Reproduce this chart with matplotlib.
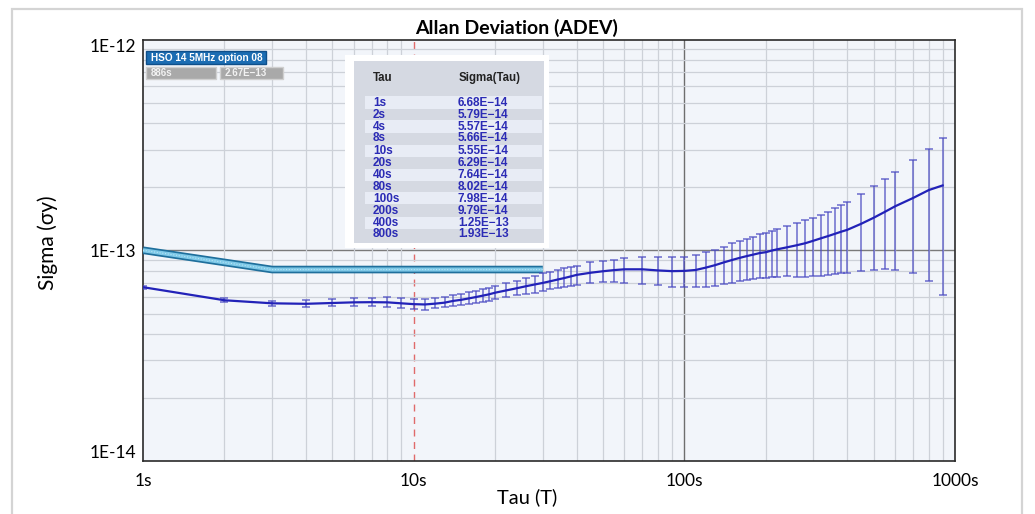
import matplotlib
matplotlib.use('Agg')
import matplotlib.pyplot as plt
from matplotlib.patches import Rectangle
import numpy as np

# ---------------- data ----------------
tau = [1, 2, 3, 4, 5, 6, 7, 8, 9, 10, 11, 12, 13, 14, 15, 16, 17, 18, 19, 20,
       22, 24, 26, 28, 30, 32, 34, 36, 38, 40, 45, 50, 55, 60, 70, 80, 90,
       100, 110, 120, 130, 140, 150, 160, 170, 180, 190, 200, 210, 220,
       240, 260, 280, 300, 320, 340, 360, 380, 400, 450, 500, 550, 600,
       700, 800, 900]
sigma_e14 = [6.68, 5.79, 5.60, 5.57, 5.62, 5.66, 5.67, 5.66, 5.60, 5.55, 5.53, 5.58, 5.64, 5.75,
             5.82, 5.91, 6.00, 6.09, 6.18, 6.29,
             6.45, 6.60, 6.75, 6.88, 7.00, 7.13, 7.26, 7.38, 7.51, 7.64, 7.82, 7.95, 8.05, 8.12,
             8.12, 8.02, 7.96,
             7.98, 8.06, 8.27, 8.50, 8.76, 8.99, 9.20, 9.38, 9.54, 9.70, 9.79, 9.96, 10.10,
             10.33, 10.56, 10.80, 11.10, 11.40, 11.68, 11.97, 12.25, 12.50, 13.35, 14.25, 15.20, 16.15,
             17.70, 19.30, 20.30]
lower_e14 = [6.58, 5.68, 5.44, 5.40, 5.43, 5.46, 5.45, 5.40, 5.32, 5.25, 5.22, 5.30, 5.36, 5.45,
             5.51, 5.57, 5.65, 5.71, 5.76, 5.85,
             5.98, 6.10, 6.22, 6.30, 6.42, 6.53, 6.65, 6.70, 6.78, 6.86, 6.98, 7.04, 7.04, 7.00,
             6.92, 6.84, 6.72,
             6.66, 6.66, 6.72, 6.80, 6.90, 7.02, 7.15, 7.23, 7.30, 7.37, 7.39, 7.45, 7.48,
             7.53, 7.50, 7.50, 7.53, 7.58, 7.62, 7.75, 7.81, 7.83, 7.98, 8.10, 8.13, 8.10,
             7.81, 7.13, 6.12]
upper_e14 = [6.78, 5.92, 5.77, 5.78, 5.85, 5.92, 5.95, 5.97, 5.93, 5.86, 5.88, 5.93, 5.98, 6.10,
             6.20, 6.31, 6.40, 6.52, 6.62, 6.75,
             6.96, 7.14, 7.35, 7.55, 7.78, 7.90, 8.05, 8.20, 8.35, 8.45, 8.78, 8.94, 9.03, 9.20,
             9.27, 9.27, 9.27,
             9.33, 9.50, 9.80, 10.05, 10.40, 10.80, 11.05, 11.33, 11.62, 11.88, 12.10, 12.33, 12.65,
             13.03, 13.47, 13.86, 14.27, 14.64, 15.20, 15.86, 16.40, 17.00, 18.56, 20.27, 21.88, 23.63,
             26.95, 30.32, 33.93]

spec_tau = [1, 3, 30]
spec_sigma = [1.00e-13, 8.1e-14, 8.1e-14]

table_tau = ['1s', '2s', '4s', '8s', '10s', '20s', '40s', '80s', '100s', '200s', '400s', '800s']
table_sigma = ['6.68E\u221214', '5.79E\u221214', '5.57E\u221214', '5.66E\u221214', '5.55E\u221214',
               '6.29E\u221214', '7.64E\u221214', '8.02E\u221214', '7.98E\u221214', '9.79E\u221214',
               '1.25E\u221213', '1.93E\u221213']

series_name = 'HSO 14 5MHz option 08'
cursor_tau = '886s'
cursor_sigma = '2.67E\u221213'

x_ticks = [1, 10, 100, 1000]
x_labels = ['1s', '10s', '100s', '1000s']
y_ticks = [1e-14, 1e-13, 1e-12]
y_labels = ['1E-14', '1E-13', '1E-12']

# ---------------- figure ----------------
W, H = 1035, 514
fig = plt.figure(figsize=(W / 100, H / 100), dpi=100)
fig.patch.set_facecolor('white')

def fx(x):
    return x / W

def fy(y):
    return 1 - y / H

FONT = ['Lato', 'DejaVu Sans']

# outer frame
fig.add_artist(Rectangle((fx(12), fy(530)), fx(1022) - fx(12), fy(9) - fy(530),
                         transform=fig.transFigure, fill=False, edgecolor='#d4d4d4', lw=1.6))

ax = fig.add_axes([fx(143), fy(461), fx(955) - fx(143), fy(39.5) - fy(461)])
ax.set_xscale('log')
ax.set_yscale('log')
ax.set_xlim(1, 1000)
ax.set_ylim(1e-14, 1e-12)
ax.set_facecolor('#f2f5fa')

# grid
ax.set_xticks(x_ticks)
ax.set_yticks(y_ticks)
ax.set_xticks([m * d for d in [1, 10, 100] for m in range(2, 10)], minor=True)
ax.set_yticks([m * d for d in [1e-14, 1e-13] for m in range(2, 10)], minor=True)
ax.grid(which='minor', color='#cdd1d8', lw=0.9)
ax.grid(which='major', visible=False)
ax.axvline(x_ticks[1], color='#e06a6a', lw=1.0, ls=(0, (5, 4)), zorder=1)
ax.axvline(x_ticks[2], color='#6e6e6e', lw=1.0, zorder=1)
ax.axhline(y_ticks[1], color='#7a7a7a', lw=1.0, zorder=1)

ax.tick_params(which='both', length=0)
ax.set_xticklabels(x_labels, fontsize=12.5, family=FONT)
ax.set_yticklabels(y_labels, fontsize=12.5, family=FONT)
ax.tick_params(axis='x', pad=9)
ax.tick_params(axis='y', pad=5)
ax.yaxis.set_minor_formatter(plt.NullFormatter())
ax.xaxis.set_minor_formatter(plt.NullFormatter())
ylbls = ax.get_yticklabels()
ylbls[0].set_va('bottom')
ylbls[-1].set_va('top')

for s in ax.spines.values():
    s.set_color('#2a2a2a')
    s.set_linewidth(1.2)

# spec line
ax.plot(spec_tau, spec_sigma, color='#1f6f9c', lw=5.5, solid_capstyle='butt', zorder=3)
ax.plot(spec_tau, spec_sigma, color='#7fc9e8', lw=3.0, solid_capstyle='butt', zorder=3)
ax.plot(spec_tau, spec_sigma, color='#b8e4f4', lw=0.8, ls=(0, (1, 1.5)), zorder=3)

# ADEV with error bars
t = np.array(tau, dtype=float)
s = np.array(sigma_e14) * 1e-14
lo = np.array(lower_e14) * 1e-14
hi = np.array(upper_e14) * 1e-14
ax.errorbar(t, s, yerr=[s - lo, hi - s], fmt='none', ecolor='#4a4ac2', elinewidth=1.1,
            capsize=3.0, capthick=1.1, alpha=0.8, zorder=4)
ax.plot(t, s, color='#2222b8', lw=1.6, zorder=5)

# titles
fig.text(fx(517), fy(28), 'Allan Deviation (ADEV)', ha='center', va='center',
         fontsize=14, fontweight='bold', family=FONT)
fig.text(fx(527), fy(497), 'Tau (T)', ha='center', va='center', fontsize=14.5, family=FONT)
fig.text(fx(48), fy(243), 'Sigma (\u03c3y)', ha='center', va='center', rotation=90,
         fontsize=15, family=FONT)

# legend boxes
def box(x0, y0, x1, y1, fc, ec, text, tc, size=7):
    fig.add_artist(Rectangle((fx(x0), fy(y1)), fx(x1) - fx(x0), fy(y0) - fy(y1),
                             transform=fig.transFigure, facecolor=fc, edgecolor=ec, lw=1.0,
                             zorder=10))
    fig.text(fx(x0 + 5), fy((y0 + y1) / 2), text, ha='left', va='center', fontsize=size,
             fontweight='bold', color=tc, family=['Liberation Sans', 'DejaVu Sans'], zorder=11)

box(146, 51.5, 266, 64, '#1c6db3', '#0f4f8a', series_name, 'white', 7.2)
box(146, 67, 216, 79, '#a9a9a9', '#cfcfcf', cursor_tau, '#f2f2f2', 7.0)
box(220, 67, 283, 79, '#a9a9a9', '#cfcfcf', cursor_sigma, '#f2f2f2', 7.0)

# statistics table
fig.add_artist(Rectangle((fx(345), fy(248)), fx(549) - fx(345), fy(55) - fy(248),
                         transform=fig.transFigure, facecolor='white', edgecolor='none',
                         zorder=10))
fig.add_artist(Rectangle((fx(354), fy(243)), fx(544) - fx(354), fy(60.5) - fy(243),
                         transform=fig.transFigure, facecolor='#d5d9e2', edgecolor='none',
                         zorder=10))
TF = ['Liberation Sans', 'DejaVu Sans']
fig.text(fx(373), fy(78), 'Tau', ha='left', va='center', fontsize=8.3, fontweight='bold',
         color='#222222', family=TF, zorder=12)
fig.text(fx(459), fy(78), 'Sigma(Tau)', ha='left', va='center', fontsize=8.3,
         fontweight='bold', color='#222222', family=TF, zorder=12)
for i, (tt, ss) in enumerate(zip(table_tau, table_sigma)):
    yc = 102.5 + 12 * i
    if i % 2 == 0:
        fig.add_artist(Rectangle((fx(365), fy(yc + 6)), fx(542) - fx(365), 12 / H,
                                 transform=fig.transFigure, facecolor='#e8ecf5',
                                 edgecolor='none', zorder=11))
    fig.text(fx(373), fy(yc), tt, ha='left', va='center', fontsize=8.5, fontweight='bold',
             color='#2b2bb5', family=TF, zorder=12)
    fig.text(fx(458), fy(yc), ss, ha='left', va='center', fontsize=8.5, fontweight='bold',
             color='#2b2bb5', family=TF, zorder=12)

fig.savefig('out.png', dpi=100)
